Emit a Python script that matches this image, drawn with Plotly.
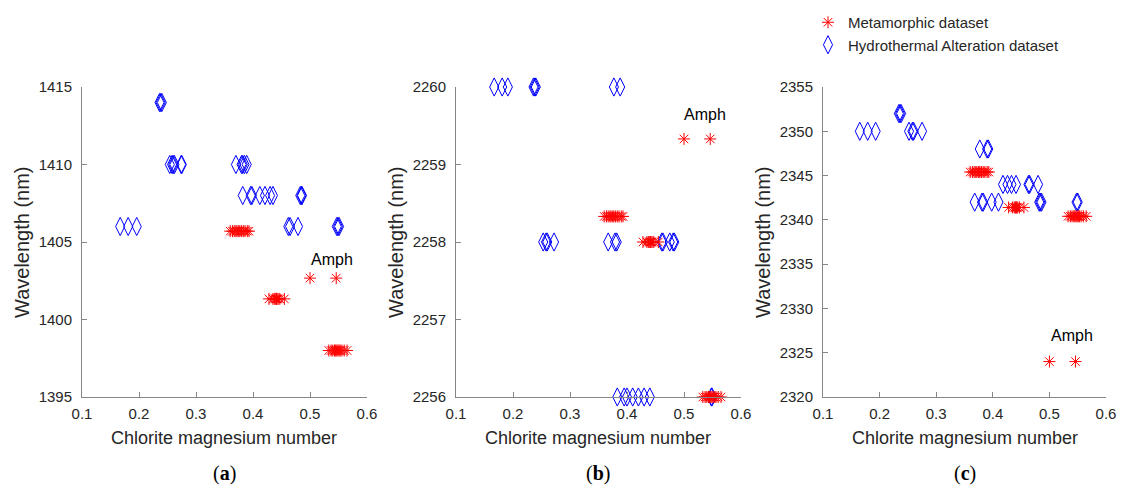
import plotly.graph_objects as go

# ---------------- data ----------------
meta_x = [0.360, 0.364, 0.367, 0.370, 0.372, 0.375, 0.377, 0.380, 0.383, 0.386, 0.390, 0.393,
          0.428, 0.435, 0.438, 0.440, 0.441, 0.442, 0.444, 0.447, 0.455,
          0.533, 0.537, 0.540, 0.543, 0.545, 0.547, 0.549, 0.551, 0.553, 0.556, 0.560, 0.565]
meta_y_a = [1405.7, 1405.7, 1405.7, 1405.7, 1405.7, 1405.7, 1405.7, 1405.7, 1405.7, 1405.7, 1405.7, 1405.7,
            1401.33, 1401.33, 1401.33, 1401.33, 1401.33, 1401.33, 1401.33, 1401.33, 1401.33,
            1398.0, 1398.0, 1398.0, 1398.0, 1398.0, 1398.0, 1398.0, 1398.0, 1398.0, 1398.0, 1398.0, 1398.0]
meta_y_b = [2258.33, 2258.33, 2258.33, 2258.33, 2258.33, 2258.33, 2258.33, 2258.33, 2258.33, 2258.33, 2258.33, 2258.33,
            2258.0, 2258.0, 2258.0, 2258.0, 2258.0, 2258.0, 2258.0, 2258.0, 2258.0,
            2256.0, 2256.0, 2256.0, 2256.0, 2256.0, 2256.0, 2256.0, 2256.0, 2256.0, 2256.0, 2256.0, 2256.0]
meta_y_c = [2345.4, 2345.4, 2345.4, 2345.4, 2345.4, 2345.4, 2345.4, 2345.4, 2345.4, 2345.4, 2345.4, 2345.4,
            2341.4, 2341.4, 2341.4, 2341.4, 2341.4, 2341.4, 2341.4, 2341.4, 2341.4,
            2340.4, 2340.4, 2340.4, 2340.4, 2340.4, 2340.4, 2340.4, 2340.4, 2340.4, 2340.4, 2340.4, 2340.4]

amph_x = [0.500, 0.546]
amph_y_a = [1402.67, 1402.67]
amph_y_b = [2259.33, 2259.33]
amph_y_c = [2324.0, 2324.0]

hydro_x_a = [0.236, 0.238, 0.240,
             0.254, 0.258, 0.260, 0.262, 0.274, 0.275, 0.370, 0.380, 0.382, 0.385, 0.389,
             0.382, 0.396, 0.398, 0.412, 0.421, 0.430, 0.435, 0.483, 0.485, 0.486,
             0.167, 0.181, 0.196, 0.462, 0.465, 0.479, 0.547, 0.549, 0.551]
hydro_y_a = [1414, 1414, 1414,
             1410, 1410, 1410, 1410, 1410, 1410, 1410, 1410, 1410, 1410, 1410,
             1408, 1408, 1408, 1408, 1408, 1408, 1408, 1408, 1408, 1408,
             1406, 1406, 1406, 1406, 1406, 1406, 1406, 1406, 1406]

hydro_x_b = [0.167, 0.181, 0.191, 0.236, 0.238, 0.240, 0.377, 0.388,
             0.253, 0.258, 0.260, 0.272, 0.367, 0.379, 0.382, 0.461, 0.463, 0.475, 0.481, 0.483,
             0.383, 0.395, 0.400, 0.410, 0.420, 0.430, 0.440, 0.548, 0.549]
hydro_y_b = [2260, 2260, 2260, 2260, 2260, 2260, 2260, 2260,
             2258, 2258, 2258, 2258, 2258, 2258, 2258, 2258, 2258, 2258, 2258, 2258,
             2256, 2256, 2256, 2256, 2256, 2256, 2256, 2256, 2256]

hydro_x_c = [0.234, 0.236, 0.238,
             0.165, 0.179, 0.193, 0.252, 0.258, 0.260, 0.275,
             0.377, 0.390, 0.392,
             0.418, 0.426, 0.433, 0.441, 0.463, 0.465, 0.480,
             0.368, 0.381, 0.383, 0.398, 0.410, 0.482, 0.484, 0.486, 0.548, 0.550]
hydro_y_c = [2352, 2352, 2352,
             2350, 2350, 2350, 2350, 2350, 2350, 2350,
             2348, 2348, 2348,
             2344, 2344, 2344, 2344, 2344, 2344, 2344,
             2342, 2342, 2342, 2342, 2342, 2342, 2342, 2342, 2342, 2342]

y_ranges = [[1395, 1415], [2256, 2260], [2320, 2355]]
y_dticks = [5, 1, 5]
x_ticks = [0.1, 0.2, 0.3, 0.4, 0.5, 0.6]
panel_labels = ["a", "b", "c"]
amph_label_pos = [(0.539, 1403.9), (0.537, 2259.64), (0.540, 2326.9)]

# ---------------- figure ----------------
W, H = 1126, 491
x_doms = [(82 / W, 367 / W), (456 / W, 741 / W), (823 / W, 1106 / W)]
y_dom = (1 - 397 / H, 1 - 87 / H)

FONT = "Arial, Liberation Sans, sans-serif"
RED = "#ff0000"
BLUE = "#0000ff"
AX = "#868686"
TXT = "#262626"

fig = go.Figure()

meta_sets = [(meta_y_a, amph_y_a), (meta_y_b, amph_y_b), (meta_y_c, amph_y_c)]
hydro_sets = [(hydro_x_a, hydro_y_a), (hydro_x_b, hydro_y_b), (hydro_x_c, hydro_y_c)]

for i in range(3):
    xa = "x" if i == 0 else f"x{i+1}"
    ya = "y" if i == 0 else f"y{i+1}"
    hx, hy = hydro_sets[i]
    fig.add_trace(go.Scatter(
        x=hx, y=hy, mode="markers", xaxis=xa, yaxis=ya,
        name="Hydrothermal Alteration dataset", legendgroup="h", legendrank=2,
        showlegend=(i == 0), cliponaxis=False,
        marker=dict(symbol="diamond-tall-open", size=13, color=BLUE, line=dict(width=1, color=BLUE)),
    ))
    my, ay = meta_sets[i]
    fig.add_trace(go.Scatter(
        x=meta_x + amph_x, y=my + ay, mode="markers", xaxis=xa, yaxis=ya,
        name="Metamorphic dataset", legendgroup="m", legendrank=1,
        showlegend=(i == 0), cliponaxis=False,
        marker=dict(symbol="asterisk-open", size=10, color=RED, line=dict(width=1, color=RED)),
    ))

layout = dict(
    width=W, height=H, autosize=False,
    margin=dict(l=0, r=0, t=0, b=0, pad=0, autoexpand=False),
    paper_bgcolor="white", plot_bgcolor="white",
    font=dict(family=FONT, color=TXT, size=15),
    legend=dict(xref="container", yref="container", x=808 / W, y=1 - 6 / H,
                xanchor="left", yanchor="top",
                font=dict(size=15, color=TXT), bgcolor="rgba(0,0,0,0)",
                traceorder="normal", tracegroupgap=5, itemwidth=30),
)

for i in range(3):
    sx = "" if i == 0 else str(i + 1)
    layout[f"xaxis{sx}"] = dict(
        domain=x_doms[i], anchor=f"y{sx}", range=[0.1, 0.6], tickvals=x_ticks,
        ticktext=[f"{v:.1f}" for v in x_ticks], automargin=False,
        showline=True, linecolor=AX, linewidth=1, mirror=False, showgrid=False, zeroline=False,
        ticks="inside", ticklen=5, tickcolor=AX, tickfont=dict(size=15, color=TXT),
        ticklabelstandoff=3,
    )
    layout[f"yaxis{sx}"] = dict(
        domain=y_dom, anchor=f"x{sx}", range=y_ranges[i], dtick=y_dticks[i], tick0=y_ranges[i][0],
        automargin=False,
        showline=True, linecolor=AX, linewidth=1, mirror=False, showgrid=False, zeroline=False,
        ticks="inside", ticklen=5, tickcolor=AX, tickfont=dict(size=15, color=TXT),
        ticklabelstandoff=6,
    )

fig.update_layout(**layout)

for i in range(3):
    x0, x1 = x_doms[i]
    cx = (x0 + x1) / 2
    fig.add_annotation(text="Chlorite magnesium number", xref="paper", yref="paper",
                       x=cx, y=1 - 438 / H, xanchor="center", yanchor="middle",
                       showarrow=False, font=dict(size=18, color=TXT, family=FONT))
    fig.add_annotation(text="Wavelength (nm)", xref="paper", yref="paper",
                       x=(x0 * W - 60) / W, y=(y_dom[0] + y_dom[1]) / 2, textangle=-90,
                       xanchor="center", yanchor="middle",
                       showarrow=False, font=dict(size=20, color=TXT, family=FONT))
    fig.add_annotation(text=f"(<b>{panel_labels[i]}</b>)", xref="paper", yref="paper",
                       x=cx, y=1 - 473 / H, xanchor="center", yanchor="middle",
                       showarrow=False, font=dict(size=20, color="black",
                                                  family="Liberation Serif, Times New Roman, serif"))
    sx = "" if i == 0 else str(i + 1)
    ax_, ay_ = amph_label_pos[i]
    fig.add_annotation(text="Amph", xref=f"x{sx}", yref=f"y{sx}", x=ax_, y=ay_,
                       xanchor="center", yanchor="middle", showarrow=False,
                       font=dict(size=16, color="black", family=FONT))

fig.write_html("out.html")
